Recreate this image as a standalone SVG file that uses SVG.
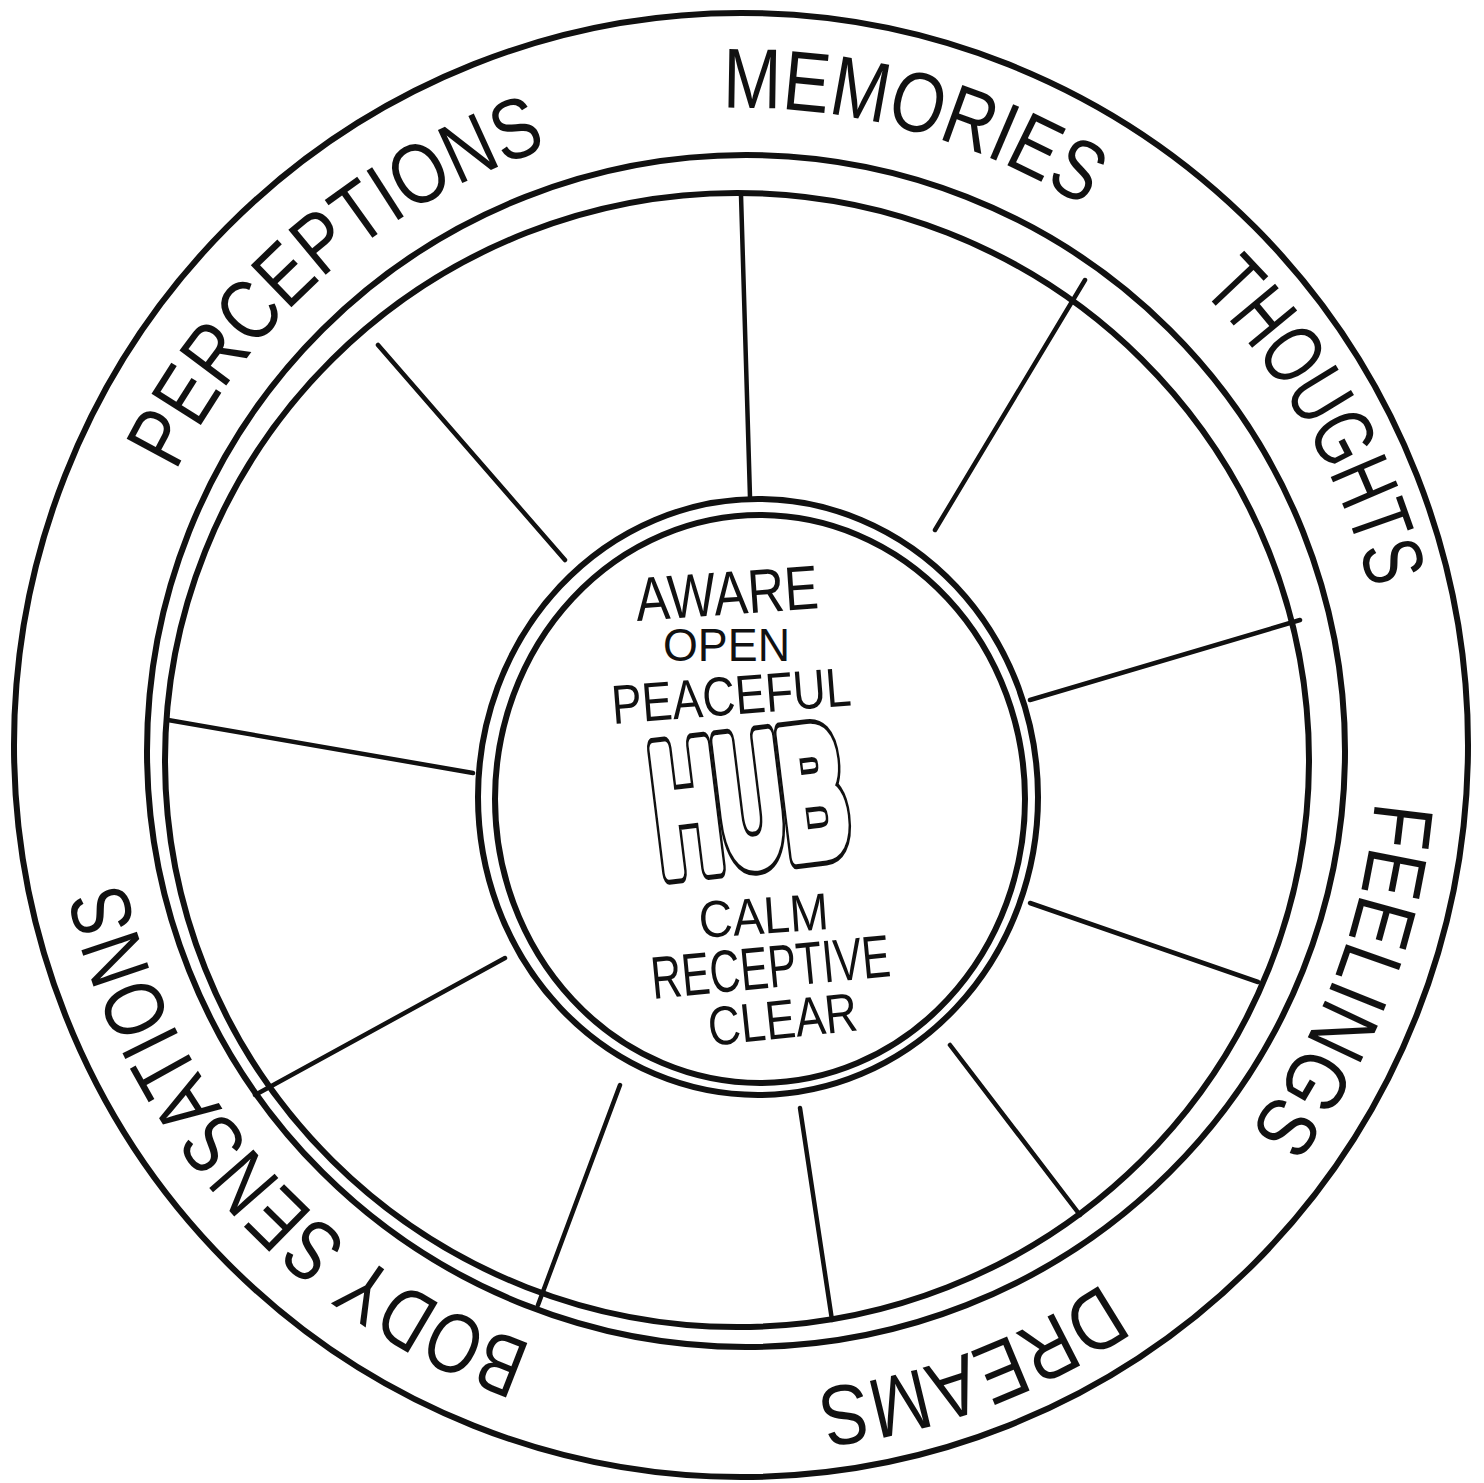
<svg xmlns="http://www.w3.org/2000/svg" width="1484" height="1483" viewBox="0 0 1484 1483">
<style>
.ln{fill:none;stroke:#111;stroke-linecap:round;stroke-linejoin:round}
.ring{stroke-width:6}
.spoke{stroke-width:4.5}
.rim{font-family:"Liberation Sans",Arial,sans-serif;font-size:85px;fill:#111}
.hw{font-family:"Liberation Sans",Arial,sans-serif;fill:#111}
.hubo{font-family:"Liberation Sans",Arial,sans-serif;font-weight:bold;font-size:180px;stroke-linejoin:round}
</style>
<defs>
<path id="c630" d="M112 748 A630 630 0 1 1 1372 748 A630 630 0 1 1 112 748"/>
<path id="c640" d="M102 748 A640 640 0 1 1 1382 748 A640 640 0 1 1 102 748"/>
<path id="c648" d="M94 748 A648 648 0 1 1 1390 748 A648 648 0 1 1 94 748"/>
<path id="c635" d="M107 748 A635 635 0 1 1 1377 748 A635 635 0 1 1 107 748"/>
<path id="c645" d="M97 748 A645 645 0 1 1 1387 748 A645 645 0 1 1 97 748"/>
<path id="c632" d="M110 748 A632 632 0 1 1 1374 748 A632 632 0 1 1 110 748"/>
</defs>
<rect width="1484" height="1483" fill="#fff"/>

<g id="outer-ring">
<ellipse class="ln ring" cx="741" cy="745" rx="727" ry="732"/>
</g>
<g id="rim">
<ellipse class="ln ring" cx="746" cy="751" rx="599" ry="596"/>
<ellipse class="ln ring" cx="737" cy="760" rx="572" ry="567"/>
</g>

<g id="connectors">
<line class="ln spoke" x1="741" y1="195" x2="750" y2="497"/>
<line class="ln spoke" x1="1085" y1="280" x2="935" y2="530"/>
<line class="ln spoke" x1="1300" y1="620" x2="1030" y2="700"/>
<line class="ln spoke" x1="1258" y1="982" x2="1030" y2="903"/>
<line class="ln spoke" x1="1080" y1="1215" x2="950" y2="1045"/>
<line class="ln spoke" x1="832" y1="1320" x2="800" y2="1108"/>
<line class="ln spoke" x1="538" y1="1305" x2="620" y2="1085"/>
<line class="ln spoke" x1="255" y1="1095" x2="505" y2="958"/>
<line class="ln spoke" x1="168" y1="720" x2="473" y2="773"/>
<line class="ln spoke" x1="378" y1="345" x2="565" y2="560"/>
</g>

<g id="hub">
<ellipse class="ln ring" cx="758" cy="797" rx="280" ry="298"/>
<ellipse class="ln ring" cx="760" cy="799" rx="265" ry="284"/>
<text class="hw" x="637" y="621" font-size="62" textLength="183" lengthAdjust="spacingAndGlyphs" transform="rotate(-4 637 621)">AWARE</text>
<text class="hw" x="663" y="661" font-size="46" textLength="127" lengthAdjust="spacingAndGlyphs">OPEN</text>
<text class="hw" x="613" y="724" font-size="55" textLength="240" lengthAdjust="spacingAndGlyphs" transform="rotate(-4.5 613 724)">PEACEFUL</text>
<g transform="rotate(-7 753 800)">
<text class="hubo" x="750" y="862" text-anchor="middle" textLength="192" lengthAdjust="spacingAndGlyphs" fill="#111" stroke="#111" stroke-width="24">HUB</text>
<text class="hubo" x="750" y="862" text-anchor="middle" textLength="192" lengthAdjust="spacingAndGlyphs" fill="#fff" stroke="#fff" stroke-width="14">HUB</text>
</g>
<text class="hw" x="700" y="938" font-size="52" textLength="130" lengthAdjust="spacingAndGlyphs" transform="rotate(-4 700 938)">CALM</text>
<text class="hw" x="653" y="999" font-size="60" textLength="240" lengthAdjust="spacingAndGlyphs" transform="rotate(-5.5 653 999)">RECEPTIVE</text>
<text class="hw" x="710" y="1046" font-size="55" textLength="150" lengthAdjust="spacingAndGlyphs" transform="rotate(-6 710 1046)">CLEAR</text>
</g>

<g id="label-perceptions"><text class="rim"><textPath href="#c630" startOffset="286" textLength="506" lengthAdjust="spacingAndGlyphs">PERCEPTIONS</textPath></text></g>
<g id="label-memories"><text class="rim"><textPath href="#c640" startOffset="986" textLength="380" lengthAdjust="spacingAndGlyphs">MEMORIES</textPath></text></g>
<g id="label-thoughts"><text class="rim"><textPath href="#c648" startOffset="1527" textLength="348" lengthAdjust="spacingAndGlyphs">THOUGHTS</textPath></text></g>
<g id="label-feelings"><text class="rim"><textPath href="#c635" startOffset="2048" textLength="357" lengthAdjust="spacingAndGlyphs">FEELINGS</textPath></text></g>
<g id="label-dreams"><text class="rim"><textPath href="#c645" startOffset="2657" textLength="308" lengthAdjust="spacingAndGlyphs">DREAMS</textPath></text></g>
<g id="label-body-sensations"><text class="rim"><textPath href="#c632" startOffset="3192" textLength="644" lengthAdjust="spacingAndGlyphs">BODY SENSATIONS</textPath></text></g>
</svg>
